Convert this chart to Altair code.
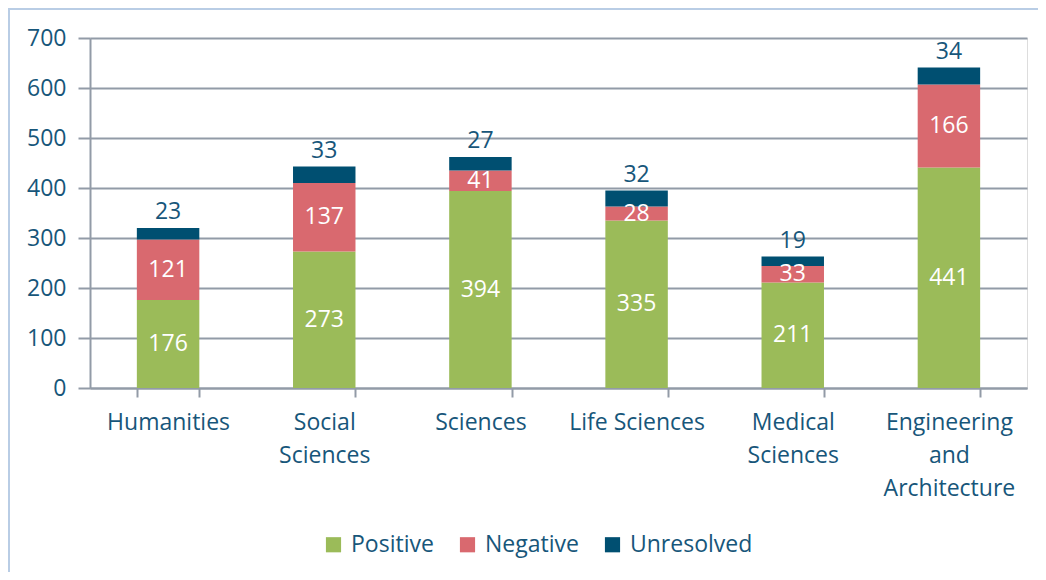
import altair as alt
import pandas as pd

categories = ["Humanities", "Social Sciences", "Sciences", "Life Sciences",
              "Medical Sciences", "Engineering and Architecture"]
tick_lines = [["Humanities"], ["Social", "Sciences"], ["Sciences"], ["Life Sciences"],
              ["Medical", "Sciences"], ["Engineering", "and", "Architecture"]]
statuses = ["Positive", "Negative", "Unresolved"]
positive = [176, 273, 394, 335, 211, 441]
negative = [121, 137, 41, 28, 33, 166]
unresolved = [23, 33, 27, 32, 19, 34]
colors = ["#9BBB59", "#D9696F", "#004F71"]
text_color = "#17567A"
grid_color = "#929BA7"
border_color = "#B9CDE5"
font = "Open Sans"
fs = 23

rows = []
for i, c in enumerate(categories):
    for j, (s, vals) in enumerate(zip(statuses, [positive, negative, unresolved])):
        rows.append({"category": c, "status": s, "value": vals[i], "order": j})
df = pd.DataFrame(rows)

label_expr = ""
for c, lines in zip(categories, tick_lines):
    arr = "[" + ",".join("'" + l + "'" for l in lines) + "]"
    label_expr += f"datum.value == '{c}' ? {arr} : "
label_expr += "datum.value"

x = alt.X("category:N", sort=categories, title=None,
          scale=alt.Scale(paddingInner=0.6, paddingOuter=0.3),
          axis=alt.Axis(labelAngle=0, labelExpr=label_expr, labelFont=font,
                        labelFontSize=fs, labelColor=text_color, labelLineHeight=33,
                        labelPadding=14, tickBand="extent", tickSize=9,
                        tickColor=grid_color, tickWidth=2, domainColor=grid_color,
                        domainWidth=2, grid=False))

base = alt.Chart(df).transform_stack(
    stack="value", groupby=["category"], as_=["y0", "y1"],
    sort=[alt.SortField("order", order="ascending")]
).transform_calculate(mid="(datum.y0 + datum.y1) / 2")

bars = base.mark_bar().encode(
    x=x,
    y=alt.Y("y0:Q", title=None,
            scale=alt.Scale(domain=[0, 700]),
            axis=alt.Axis(values=list(range(0, 701, 100)), labelFont=font,
                          labelFontSize=fs, labelColor=text_color, labelPadding=12,
                          tickSize=12, tickColor=grid_color, tickWidth=2,
                          domainColor=grid_color, domainWidth=2,
                          gridColor=grid_color, gridWidth=2)),
    y2="y1:Q",
    color=alt.Color("status:N", sort=statuses,
                    scale=alt.Scale(domain=statuses, range=colors),
                    legend=alt.Legend(title=None, orient="none", direction="horizontal",
                                      legendX=232, legendY=495, labelFont=font,
                                      labelFontSize=fs, labelColor=text_color,
                                      symbolType="square", symbolSize=230,
                                      symbolStrokeWidth=0, columnPadding=22,
                                      labelOffset=6)),
)

inner = base.transform_filter("datum.status != 'Unresolved'").mark_text(
    font=font, fontSize=fs, color="white", baseline="middle"
).encode(x=alt.X("category:N", sort=categories), y="mid:Q", text="value:Q")

top = base.transform_filter("datum.status == 'Unresolved'").mark_text(
    font=font, fontSize=fs, color=text_color, baseline="middle", dy=-16
).encode(x=alt.X("category:N", sort=categories), y="y1:Q", text="value:Q")

frame_top = alt.Chart(df).mark_rule(color=border_color, strokeWidth=2).encode(
    x=alt.value(-82), x2=alt.value(960), y=alt.value(-29))
frame_left = alt.Chart(df).mark_rule(color=border_color, strokeWidth=2).encode(
    x=alt.value(-81), y=alt.value(-29), y2=alt.value(545))

chart = alt.layer(frame_top, frame_left, bars, inner, top).properties(
    width=937, height=350,
    autosize=alt.AutoSizeParams(type="none"),
    padding={"left": 82, "top": 30, "right": 11, "bottom": 184},
).configure_view(stroke=None).configure(background="white")

chart.save("out.html", embed_options={"renderer": "svg", "actions": False})
